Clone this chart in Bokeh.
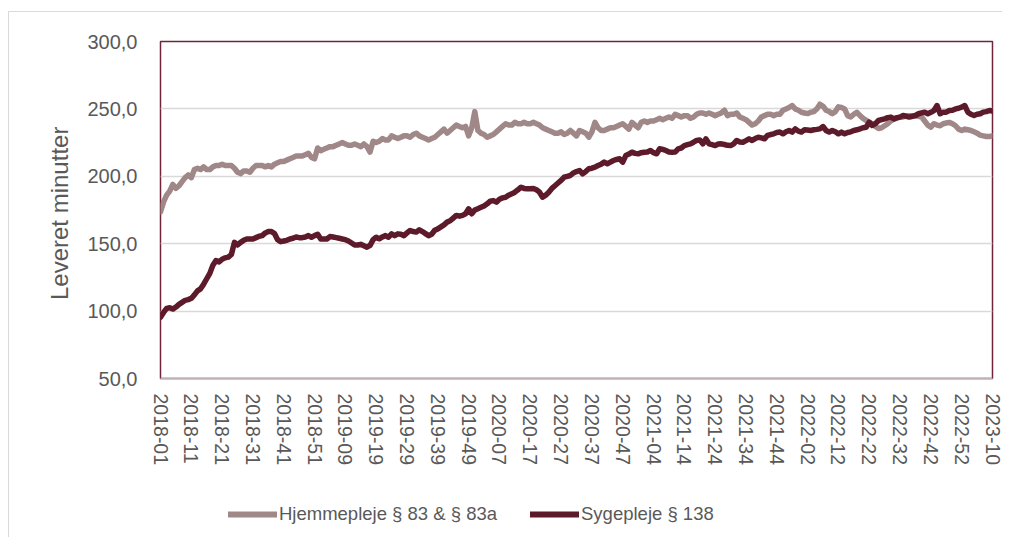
from bokeh.plotting import figure
from bokeh.models import Legend, LegendItem, FixedTicker, Range1d
from bokeh.layouts import column
from bokeh.embed import file_html
from bokeh.resources import INLINE

# ---- data -------------------------------------------------------------
tick_labels = ["2018-01", "2018-11", "2018-21", "2018-31", "2018-41", "2018-51",
               "2019-09", "2019-19", "2019-29", "2019-39", "2019-49",
               "2020-07", "2020-17", "2020-27", "2020-37", "2020-47",
               "2021-04", "2021-14", "2021-24", "2021-34", "2021-44",
               "2022-02", "2022-12", "2022-22", "2022-32", "2022-42", "2022-52",
               "2023-10"]

series_names = ["Hjemmepleje § 83 & § 83a", "Sygepleje § 138"]

hjemmepleje = [
    173.5, 181, 186, 189, 194, 191, 193, 196, 199, 201,
    199, 205, 206, 205, 207, 205, 205, 207, 208, 208,
    209, 208, 208, 208, 206, 203, 202, 204, 204, 203,
    206, 208, 208, 208, 207, 208, 207, 209, 210, 211,
    211, 212, 213, 214, 215, 215, 215, 216, 217, 214,
    213, 221, 219, 220, 221, 222, 222, 223, 224, 225,
    224, 223, 223, 224, 223, 222, 224, 222, 218, 226,
    225, 226, 228, 227, 227, 230, 229, 228, 229, 230,
    230, 229, 231, 232, 230, 229, 228, 227, 228, 229,
    231, 233, 235, 232, 234, 236, 238, 237, 236, 237,
    230, 236, 248, 234, 232, 231, 229, 230, 231, 233,
    235, 237, 239, 238, 238, 240, 239, 239, 240, 239,
    239, 240, 239, 238, 236, 235, 234, 233, 232, 232,
    233, 231, 232, 234, 232, 230, 234, 233, 232, 229,
    233, 240, 236, 234, 234, 235, 236, 236, 237, 238,
    239, 237, 235, 240, 238, 236, 240, 241, 240, 241,
    241, 242, 243, 242, 243, 244, 243, 246, 245, 244,
    245, 245, 243, 244, 246, 247, 247, 246, 247, 246,
    245, 246, 247, 249, 245, 246, 246, 247, 244, 243,
    242, 240, 238, 239, 241, 244, 245, 246, 246, 245,
    246, 246, 249, 250, 251, 252.5, 250, 249, 247.5, 247,
    246.5, 247.5, 248, 250, 253.5, 252, 249, 248, 246.5, 248,
    251.5, 251, 250, 245, 244, 246, 247.5, 245, 243, 241.5,
    240, 239, 237, 235.5, 236, 237.5, 239, 241, 242.5, 243,
    244, 244, 245, 245, 245, 245, 244.5, 244, 241, 238,
    236.5, 239, 238, 237.5, 239, 239.5, 240, 239, 237.5, 235,
    234, 235, 234.5, 234, 233, 232, 230.5, 230, 229.5, 229.5,
    230,
]

sygepleje = [
    95.5, 99, 102, 102.5, 101.5, 103, 105, 106.5, 108, 108.5,
    109.5, 112, 115, 116.5, 120, 124, 128, 134, 137.5, 136.5,
    138.5, 139.5, 140, 142, 151, 149, 151, 152.5, 153.5, 153.5,
    153.5, 154.5, 155.5, 156, 158, 159, 159, 157.5, 153, 151.5,
    152, 152.5, 153.5, 154, 155, 154.5, 154.5, 155, 156, 154.8,
    156, 157, 153.5, 153.5, 153.5, 155.3, 155, 154.5, 154, 153.5,
    153, 152, 150.5, 149, 149, 149.5, 148.5, 147.4, 148.7, 153,
    154.8, 153.6, 155, 156, 154.8, 157.3, 156, 157.3, 157, 156,
    158, 159.8, 159, 158.6, 160.3, 159, 157.5, 156, 157, 160,
    161, 162.5, 164, 166, 167, 169, 171, 170.4, 171, 172.2,
    175.9, 172.2, 175, 176, 177, 178, 179.6, 181.5, 182, 180.8,
    183, 184, 184.5, 186, 187, 188.2, 190, 191.9, 191, 190.7,
    190.7, 191, 190, 188.2, 184.5, 186, 188.2, 191, 193, 195,
    197, 199.3, 200, 200.6, 202.5, 203.5, 204.3, 201.8, 203.5, 205.6,
    206, 206.8, 208, 209, 210.5, 209.3, 210.5, 211.7, 212.5, 213,
    210.5, 215.4, 216.5, 217.9, 217, 216.7, 217.5, 217.9, 218, 219.1,
    217.5, 216.7, 220.4, 220, 219.1, 218, 217.9, 218, 220.4, 221,
    222.8, 223.5, 224.1, 225.3, 226.6, 227, 224.1, 227.8, 224.1, 223.5,
    222.8, 224, 224.1, 223.6, 223, 222.8, 224.1, 226.6, 225.5, 225.3,
    226.5, 227.8, 226.6, 228, 229, 228.5, 227.8, 230.3, 231, 231.5,
    232.5, 232.8, 231.5, 233, 234, 232.8, 235.2, 233.5, 232.8, 234.5,
    234.3, 234, 234.5, 234.8, 235.2, 236.9, 234, 232.8, 234, 233,
    231.5, 232.8, 231.5, 232.5, 233, 234, 234.5, 235.2, 236, 236.4,
    240.1, 237.7, 239, 241.4, 242, 242.6, 243.5, 243.9, 242.6, 243.5,
    243.9, 245.1, 244.5, 243.9, 244.5, 245.1, 246.4, 247, 247.6, 246.4,
    247.5, 248.8, 252.5, 246.4, 247.6, 247.6, 248.8, 249, 250, 250.5,
    251.3, 252.5, 247.6, 246, 245.1, 246, 246.4, 247.6, 248, 248.8,
    248.4,
]

y_ticks = [50, 100, 150, 200, 250, 300]
y_tick_labels = ["50,0", "100,0", "150,0", "200,0", "250,0", "300,0"]

# ---- styling ----------------------------------------------------------
n = len(hjemmepleje)
xs = list(range(n))
tick_pos = list(range(0, 10 * len(tick_labels), 10))

FONT = "Liberation Sans"
TXT = "#595959"
C_H = "#a08888"
C_S = "#5c1a2a"
LW = 5.5

# ---- main chart -------------------------------------------------------
p = figure(width=993, height=461, output_backend="svg", toolbar_location=None,
           x_range=Range1d(0, n - 1), y_range=Range1d(50, 300),
           min_border_left=151, min_border_right=10,
           min_border_top=29, min_border_bottom=95)

p.outline_line_color = "#70263a"
p.outline_line_width = 1.5
p.background_fill_color = "white"
p.border_fill_color = "white"

p.xgrid.grid_line_color = None
p.ygrid.grid_line_color = "#d9d9d9"
p.ygrid.grid_line_width = 1.5

p.xaxis.ticker = FixedTicker(ticks=tick_pos)
p.xaxis.major_label_overrides = {pos: lab for pos, lab in zip(tick_pos, tick_labels)}
p.xaxis.major_label_orientation = "vertical"
p.xaxis.major_tick_line_color = None
p.xaxis.minor_tick_line_color = None
p.xaxis.major_tick_out = 0
p.xaxis.major_label_standoff = 15
p.xaxis.axis_line_color = "#bfb3b7"
p.xaxis.axis_line_width = 1.5
p.xaxis.major_label_text_font = FONT
p.xaxis.major_label_text_font_size = "19.5px"
p.xaxis.major_label_text_color = TXT

p.yaxis.ticker = FixedTicker(ticks=y_ticks)
p.yaxis.major_label_overrides = {t: l for t, l in zip(y_ticks, y_tick_labels)}
p.yaxis.major_tick_line_color = None
p.yaxis.minor_tick_line_color = None
p.yaxis.major_tick_out = 0
p.yaxis.axis_line_color = None
p.yaxis.major_label_standoff = 23
p.yaxis.major_label_text_font = FONT
p.yaxis.major_label_text_font_size = "20px"
p.yaxis.major_label_text_color = TXT
p.yaxis.axis_label = "Leveret  minutter"
p.yaxis.axis_label_text_font = FONT
p.yaxis.axis_label_text_font_size = "24px"
p.yaxis.axis_label_text_font_style = "normal"
p.yaxis.axis_label_text_color = TXT
p.yaxis.axis_label_standoff = 11

p.line(xs, hjemmepleje, line_color=C_H, line_width=LW,
       line_join="round", line_cap="round")
p.line(xs, sygepleje, line_color=C_S, line_width=LW,
       line_join="round", line_cap="round")

# ---- legend strip below the chart -------------------------------------
lf = figure(width=993, height=64, output_backend="svg", toolbar_location=None,
            x_range=Range1d(0, 1), y_range=Range1d(0, 1),
            min_border=0, x_axis_type=None, y_axis_type=None)
lf.outline_line_color = None
lf.grid.visible = False
lf.background_fill_color = "white"
lf.border_fill_color = "white"
d1 = lf.line([-5, -4], [-5, -4], line_color=C_H, line_width=6, line_cap="round")
d2 = lf.line([-5, -4], [-5, -4], line_color=C_S, line_width=6, line_cap="round")

legend = Legend(items=[LegendItem(label=series_names[0], renderers=[d1]),
                       LegendItem(label=series_names[1], renderers=[d2])],
                orientation="horizontal", location=(68, 12),
                border_line_color=None, background_fill_alpha=0,
                padding=0, margin=0, spacing=33, glyph_width=49, glyph_height=20,
                label_standoff=2, label_height=20,
                label_text_font=FONT, label_text_font_size="18.5px",
                label_text_color=TXT)
lf.add_layout(legend)

layout = column(p, lf, spacing=0)
layout.styles = {"border-left": "1px solid #d9d9d9", "border-top": "1px solid #d9d9d9",
                 "margin-top": "11px", "margin-left": "8px"}

open("out.html", "w").write(file_html(layout, INLINE))
